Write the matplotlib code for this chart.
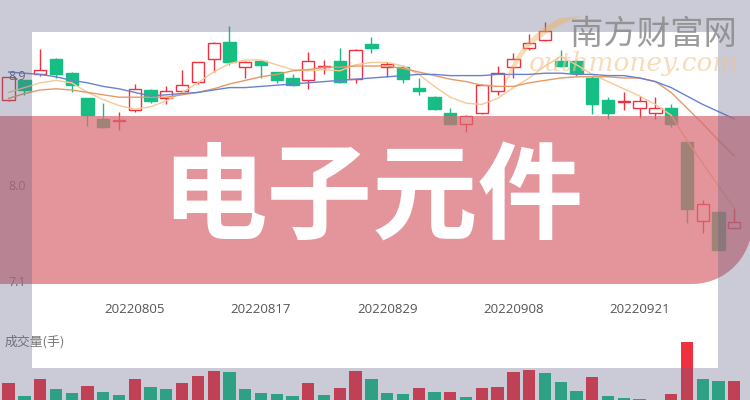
import matplotlib
matplotlib.use('Agg')
import matplotlib.pyplot as plt
from matplotlib.path import Path
from matplotlib.patches import PathPatch
import numpy as np

# trading days shown on the chart
dates = ['20220726', '20220727', '20220728', '20220729', '20220801', '20220802',
         '20220803', '20220804', '20220805', '20220808', '20220809', '20220810',
         '20220811', '20220812', '20220815', '20220816', '20220817', '20220818',
         '20220819', '20220822', '20220823', '20220824', '20220825', '20220826',
         '20220829', '20220830', '20220831', '20220901', '20220902', '20220905',
         '20220906', '20220907', '20220908', '20220909', '20220913', '20220914',
         '20220915', '20220916', '20220919', '20220920', '20220921', '20220922',
         '20220923', '20220926', '20220927', '20220928', '20220929']

opens = [8.72, 8.88, 8.93, 9.06, 8.94, 8.73, 8.56, 8.54, 8.63, 8.80,
         8.73, 8.79, 8.87, 9.06, 9.20, 8.99, 9.04, 8.95, 8.90, 8.88,
         8.99, 9.04, 8.89, 9.18, 8.99, 8.99, 8.82, 8.74, 8.61, 8.52,
         8.61, 8.79, 8.99, 9.15, 9.22, 9.04, 9.04, 8.90, 8.72, 8.70,
         8.65, 8.61, 8.65, 8.37, 7.71, 7.78, 7.65]
closes = [8.91, 8.80, 8.97, 8.93, 8.84, 8.59, 8.49, 8.55, 8.81, 8.71,
          8.79, 8.84, 9.03, 9.19, 9.03, 9.03, 9.01, 8.88, 8.84, 9.04,
          9.00, 8.87, 9.13, 9.15, 9.02, 8.89, 8.79, 8.64, 8.52, 8.58,
          8.84, 8.94, 9.06, 9.19, 9.29, 9.00, 8.94, 8.68, 8.61, 8.71,
          8.71, 8.65, 8.52, 7.81, 7.85, 7.47, 7.70]
highs = [8.91, 8.88, 9.14, 9.07, 8.95, 8.73, 8.69, 8.62, 8.85, 8.81,
         8.83, 8.97, 9.03, 9.20, 9.33, 9.04, 9.04, 8.95, 8.93, 9.12,
         9.05, 9.15, 9.14, 9.24, 9.03, 9.01, 8.90, 8.75, 8.65, 8.59,
         8.85, 9.00, 9.11, 9.27, 9.37, 9.13, 9.05, 8.92, 8.74, 8.78,
         8.75, 8.74, 8.68, 8.37, 7.88, 7.78, 7.82]
lows = [8.71, 8.76, 8.92, 8.90, 8.78, 8.50, 8.48, 8.47, 8.62, 8.69,
        8.68, 8.78, 8.85, 8.95, 9.01, 8.90, 8.90, 8.86, 8.83, 8.81,
        8.93, 8.86, 8.86, 9.11, 8.91, 8.86, 8.76, 8.63, 8.51, 8.45,
        8.60, 8.76, 8.90, 9.13, 9.21, 8.99, 8.92, 8.60, 8.56, 8.63,
        8.57, 8.56, 8.49, 7.69, 7.61, 7.47, 7.64]

ma5 = [8.78, 8.82, 8.86, 8.88, 8.86, 8.78, 8.72, 8.67, 8.64, 8.66,
       8.71, 8.78, 8.86, 8.95, 9.02, 9.05, 9.05, 9.01, 8.97, 8.96,
       8.97, 8.96, 9.01, 9.03, 9.03, 9.00, 8.93, 8.83, 8.74, 8.69,
       8.68, 8.73, 8.82, 8.90, 9.00, 9.08, 9.01, 8.93, 8.87, 8.81,
       8.75, 8.68, 8.59, 8.38, 8.19, 8.00, 7.82]
ma10 = [8.73, 8.77, 8.80, 8.81, 8.80, 8.78, 8.76, 8.74, 8.74, 8.74,
        8.74, 8.76, 8.78, 8.81, 8.85, 8.88, 8.91, 8.93, 8.96, 8.97,
        8.99, 8.99, 9.00, 9.00, 9.00, 8.98, 8.95, 8.92, 8.89, 8.87,
        8.84, 8.83, 8.83, 8.86, 8.88, 8.90, 8.91, 8.91, 8.91, 8.90,
        8.90, 8.87, 8.78, 8.65, 8.52, 8.38, 8.25]
ma20 = [8.95, 8.94, 8.93, 8.91, 8.88, 8.86, 8.83, 8.81, 8.78, 8.75,
        8.76, 8.77, 8.78, 8.80, 8.82, 8.82, 8.83, 8.84, 8.85, 8.86,
        8.87, 8.88, 8.89, 8.90, 8.91, 8.92, 8.93, 8.93, 8.92, 8.92,
        8.92, 8.93, 8.93, 8.93, 8.94, 8.94, 8.93, 8.93, 8.92, 8.92,
        8.90, 8.87, 8.82, 8.75, 8.68, 8.62, 8.56]

# volume (万手) and its colour, R = up / G = down
volume = [19.7, 7.0, 24.3, 14.0, 9.7, 17.3, 11.0, 7.7, 24.0, 15.7,
          13.7, 19.7, 27.3, 32.0, 31.0, 14.3, 9.7, 9.3, 7.3, 19.7,
          8.0, 15.3, 32.3, 24.0, 9.7, 9.0, 15.0, 11.0, 11.0, 6.3,
          14.7, 16.0, 30.7, 32.7, 30.0, 21.0, 12.3, 25.7, 7.0, 4.7,
          3.7, 1.5, 8.7, 61.3, 23.7, 21.7, 21.7]
vol_dir = 'RGRGGRGGRGGRRRGGGGGRGRRGGGRGRGRRRRGGGRGGGGRRGGR'

yticks = [8.9, 8.0, 7.1]
title = '电子元件'
RED = '#f0303f'
GREEN = '#16be84'

fig = plt.figure(figsize=(7.5, 4), dpi=100)
fig.patch.set_facecolor('white')

# ---- price panel (figure px 0..300 from top)
ax = fig.add_axes([0, 0.25, 1, 0.75])
ax.set_facecolor('none')
n = len(dates)
x = np.arange(n)
o = np.array(opens); c = np.array(closes)
up = c >= o
col = np.where(up, RED, GREEN)
ax.vlines(x, lows, highs, colors=col, lw=1, zorder=2)
ax.bar(x, np.abs(c - o), bottom=np.minimum(o, c), width=0.78,
       color=np.where(up, 'white', GREEN), edgecolor=col, lw=1, zorder=3)
ax.plot(x, ma5, color='#f6c995', lw=1, zorder=4)
ax.plot(x, ma10, color='#e49a66', lw=1, zorder=4)
ax.plot(x, ma20, color='#6a80d2', lw=1, zorder=4)
ax.set_xlim(-0.545, 47.0)
ax.set_ylim(7.05, 9.55)
for s in ax.spines.values():
    s.set_visible(False)
ax.set_yticks([])
ax.set_xticks(x[8::8])
ax.set_xticklabels(dates[8::8], family='Open Sans', fontsize=9.5, color='#555555')
ax.tick_params(axis='x', length=0, pad=2)
for v, dy in zip(yticks, [1, 0, 12]):
    ax.annotate(f'{v:.1f}', xy=(0, v), xycoords=('axes fraction', 'data'),
                xytext=(8, dy), textcoords='offset pixels', ha='left', va='center',
                family='Open Sans', fontsize=9, color='#666666')

# ---- volume panel (figure px 300..400)
axv = fig.add_axes([0, 0, 1, 0.25])
axv.set_facecolor('none')
axv.bar(x, volume, width=0.78, color=[RED if d == 'R' else GREEN for d in vol_dir])
axv.set_xlim(-0.545, 47.0)
axv.set_ylim(3, 103)
axv.axis('off')

# ---- decoration overlay in pixel coordinates
ov = fig.add_axes([0, 0, 1, 1], zorder=10)
ov.set_xlim(0, 750)
ov.set_ylim(400, 0)
ov.axis('off')
ov.set_facecolor('none')

ov.text(5, 342, '成交量(手)', fontsize=9.3, color='#777777',
        family=['Noto Sans CJK SC'], ha='left', va='center', zorder=0)

r = 60
th = np.linspace(0, np.pi / 2, 30)
verts = [(-10, 116), (752, 116)] + list(zip(692 + r * np.cos(th), 224 + r * np.sin(th))) + [(-10, 284), (-10, 116)]
codes = [Path.MOVETO] + [Path.LINETO] * (len(verts) - 2) + [Path.CLOSEPOLY]
ov.add_patch(PathPatch(Path(verts, codes), facecolor='#d96a73', alpha=0.71, lw=0, zorder=1))

outer = [(0, 0), (750, 0), (750, 400), (0, 400), (0, 0)]
inner = [(32, 32), (32, 368), (718, 368), (718, 32), (32, 32)]
cd = [Path.MOVETO, Path.LINETO, Path.LINETO, Path.LINETO, Path.CLOSEPOLY]
ov.add_patch(PathPatch(Path(outer + inner, cd + cd), facecolor='#5f6384', alpha=0.33,
                       lw=0, zorder=2))

ov.text(372, 200, title, ha='center', va='center', fontsize=76, fontweight='bold',
        color='white', family=['Noto Sans CJK SC'], zorder=3)

# watermark
sw = [(504, 86), (516, 40), (560, 18), (582, 16), (552, 26), (528, 48), (504, 86)]
sc = [Path.MOVETO, Path.CURVE3, Path.CURVE3, Path.LINETO, Path.CURVE3, Path.CURVE3, Path.CLOSEPOLY]
ov.add_patch(PathPatch(Path(sw, sc), facecolor='#f0b060', alpha=0.45, lw=0, zorder=4))
ov.text(653, 34, '南方财富网', ha='center', va='center', fontsize=24,
        color='#8a8a8a', alpha=0.85, family=['Noto Sans CJK SC'], zorder=4)
ov.text(738, 64, 'outhmoney.com', ha='right', va='center', fontsize=19,
        style='italic', family='DejaVu Serif', color='#f2c48e', alpha=0.6, zorder=4)

fig.savefig('out.png', dpi=100)
